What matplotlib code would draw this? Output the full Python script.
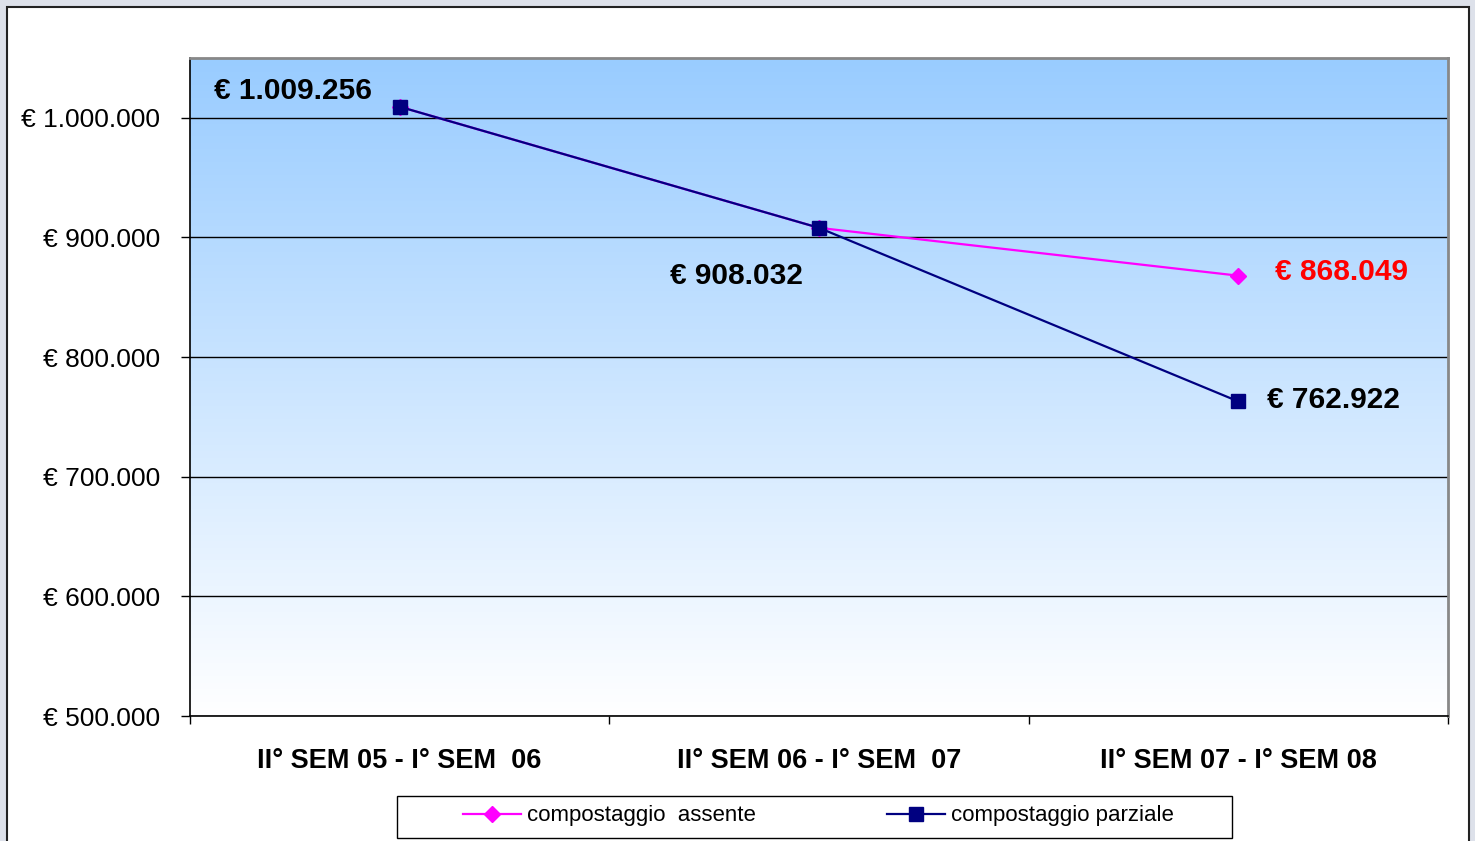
import matplotlib
matplotlib.use("Agg")
import matplotlib.pyplot as plt
import numpy as np
from matplotlib.patches import Rectangle
from matplotlib.ticker import FuncFormatter

plt.rcParams["font.family"] = ["Liberation Sans", "DejaVu Sans"]

categories = ["II° SEM 05 - I° SEM  06", "II° SEM 06 - I° SEM  07", "II° SEM 07 - I° SEM 08"]
assente = [1009256, 908032, 868049]
parziale = [1009256, 908032, 762922]
series_names = ["compostaggio  assente", "compostaggio parziale"]


def euro(v):
    s = f"{int(round(v)):,}".replace(",", ".")
    return "€ " + s


W, H = 1475, 841
fig = plt.figure(figsize=(W / 100, H / 100), dpi=100)
fig.patch.set_facecolor("#dde1ea")
# white chart frame
fig.patches.append(Rectangle((7 / W, -0.05), (1469 - 7) / W, 1.05 - 7 / H,
                             transform=fig.transFigure, facecolor="white",
                             edgecolor="#222222", linewidth=1.5, zorder=-5))
# legend frame
fig.patches.append(Rectangle((397 / W, 1 - 838 / H), (1232 - 397) / W, (838 - 796) / H,
                             transform=fig.transFigure, facecolor="white",
                             edgecolor="black", linewidth=1.0, zorder=-4))

ax = fig.add_axes([190 / W, 1 - 716 / H, (1448 - 190) / W, (716 - 58) / H])
ax.set_xlim(-0.5, 2.5)
ax.set_ylim(500000, 1050000)

# gradient background
grad = np.linspace(0, 1, 256).reshape(-1, 1)
top = np.array([0x99, 0xCC, 0xFF]) / 255
bottom = np.array([1.0, 1.0, 1.0])
img = top * (1 - grad[..., None]) + bottom * grad[..., None]
img = np.repeat(img, 2, axis=1)
ax.imshow(img, extent=[0, 1, 0, 1], transform=ax.transAxes, aspect="auto", zorder=0)

ax.set_yticks(np.arange(500000, 1000001, 100000))
ax.yaxis.set_major_formatter(FuncFormatter(lambda v, p: euro(v)))
ax.grid(axis="y", color="black", linewidth=1.0, zorder=1)
ax.set_axisbelow(True)

x = np.arange(len(categories))
ax.plot(x, assente, color="#ff00ff", linewidth=1.6, marker="D", markersize=8,
        label=series_names[0], zorder=3)
ax.plot(x, parziale, color="#000080", linewidth=1.6, marker="s", markersize=10,
        label=series_names[1], zorder=4)

# data labels
lab = dict(ha="center", va="center", fontsize=21.5, fontweight="bold", textcoords="offset pixels")
ax.annotate(euro(parziale[0]), (x[0], parziale[0]), xytext=(-107, 16), color="black", **lab)
ax.annotate(euro(parziale[1]), (x[1], parziale[1]), xytext=(-82, -48), color="black", **lab)
ax.annotate(euro(assente[2]), (x[2], assente[2]), xytext=(103, 4), color="#ff0000", **lab)
ax.annotate(euro(parziale[2]), (x[2], parziale[2]), xytext=(95, 1), color="black", **lab)

# category axis: ticks at boundaries, labels at centres
ax.set_xticks([-0.5, 0.5, 1.5, 2.5])
ax.set_xticklabels([])
ax.set_xticks(x, minor=True)
ax.set_xticklabels(categories, minor=True, fontsize=19.5, fontweight="bold")
ax.tick_params(axis="x", which="minor", length=0, pad=23)
ax.tick_params(axis="x", which="major", length=6, width=1, direction="out")
ax.tick_params(axis="y", length=6.5, width=1, direction="out", labelsize=19, pad=15)

for side in ["left", "bottom"]:
    ax.spines[side].set_color("black")
    ax.spines[side].set_linewidth(1.2)
for side in ["top", "right"]:
    ax.spines[side].set_color("#888888")
    ax.spines[side].set_linewidth(2)

leg = fig.legend(loc="center left", bbox_to_anchor=(463 / W, 1 - 816 / H),
                 ncol=2, fontsize=16, frameon=False,
                 columnspacing=5.9, handlelength=2.6, handletextpad=0.27,
                 borderpad=0, borderaxespad=0)

fig.savefig("out.png", dpi=100)
